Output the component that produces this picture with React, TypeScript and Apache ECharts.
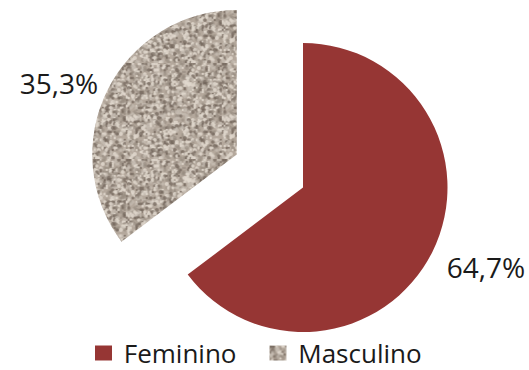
import React, { useEffect, useRef } from "react";
import * as echarts from "echarts";

const categories = ["Feminino", "Masculino"];
const percentages = [64.7, 35.3];
const labelTexts = ["64,7%", "35,3%"];

const RED = "#963634";

// Speckled stone texture for the "Masculino" slice, built on a small canvas
function stoneTexture(): HTMLCanvasElement {
  const size = 96;
  const c = document.createElement("canvas");
  c.width = size;
  c.height = size;
  const ctx = c.getContext("2d")!;
  const hash = (x: number, y: number) => {
    let h = (x * 374761393 + y * 668265263) | 0;
    h = Math.imul(h ^ (h >>> 13), 1274126177);
    return ((h ^ (h >>> 16)) >>> 0) / 4294967295;
  };
  ctx.fillStyle = "#b4a89c";
  ctx.fillRect(0, 0, size, size);
  // soft grains of lighter and darker mineral
  for (let y = 0; y < size; y += 2) {
    for (let x = 0; x < size; x += 2) {
      const v = hash(x, y);
      const w = hash(x + 311, y + 97);
      let col: string | null = null;
      if (v < 0.13) col = "rgba(112,100,90,0.7)";
      else if (v < 0.3) col = "rgba(148,136,125,0.55)";
      else if (v > 0.84) col = "rgba(224,216,206,0.85)";
      else if (v > 0.68) col = "rgba(202,193,183,0.6)";
      if (col) {
        ctx.fillStyle = col;
        ctx.beginPath();
        ctx.arc(x + 1, y + 1, 1.1 + w, 0, Math.PI * 2);
        ctx.fill();
      }
    }
  }
  return c;
}

export default function App() {
  const ref = useRef<HTMLDivElement>(null);

  useEffect(() => {
    document.body.style.margin = "0";
    const chart = echarts.init(ref.current!, null, { renderer: "svg" });
    const stone = { image: stoneTexture(), repeat: "repeat" as const };
    const fills = [RED, stone];

    chart.setOption({
      animation: false,
      backgroundColor: "#ffffff",
      legend: {
        left: 95,
        top: 339,
        width: 420,
        padding: 0,
        itemWidth: 17,
        itemHeight: 15,
        itemGap: 33,
        icon: "rect",
        selectedMode: false,
        data: categories,
        formatter: (name: string) => " " + name,
        textStyle: {
          fontFamily: "Open Sans",
          fontSize: 26,
          lineHeight: 28,
          color: "#1a1a1a",
        },
      },
      series: [
        {
          type: "pie",
          center: [303, 187.5],
          radius: 144.5,
          startAngle: 90,
          clockwise: true,
          selectedMode: "single",
          selectedOffset: 74,
          avoidLabelOverlap: false,
          emphasis: { disabled: true },
          label: {
            show: true,
            position: "outside",
            fontFamily: "Open Sans",
            fontSize: 28,
            color: "#1a1a1a",
            formatter: (p: any) => labelTexts[p.dataIndex],
          },
          labelLine: { show: false },
          labelLayout: (p: any) =>
            p.dataIndex === 0
              ? { x: 486, y: 267, align: "center", verticalAlign: "middle" }
              : { x: 53, y: 78, align: "center", verticalAlign: "middle" },
          data: categories.map((name, i) => ({
            name,
            value: percentages[i],
            selected: i === 1,
            itemStyle: { color: fills[i] },
          })),
        },
      ],
    });
    return () => chart.dispose();
  }, []);

  return <div ref={ref} style={{ width: 529, height: 370 }} />;
}
